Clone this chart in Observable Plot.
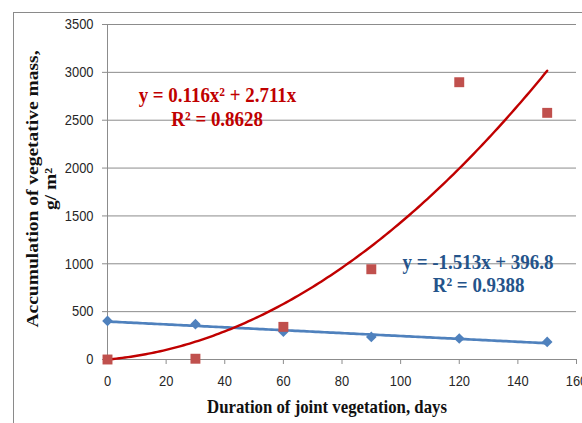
<!DOCTYPE html>
<html>
<head>
<meta charset="utf-8">
<script src="https://cdn.jsdelivr.net/npm/d3@7"></script>
<script src="https://cdn.jsdelivr.net/npm/@observablehq/plot@0.6"></script>
<style>
  html, body { margin: 0; padding: 0; background: #fff; overflow: hidden; }
  #wrap { position: relative; width: 582px; height: 423px; overflow: hidden; }
  #chart { position: absolute; left: 0; top: 0; }
  #border { position: absolute; left: 13px; top: 12px; width: 640px; height: 500px;
            border: 1px solid #8a8a8a; pointer-events: none; }
</style>
</head>
<body>
<div id="wrap"><div id="chart"></div><div id="border"></div></div>
<script>
// ---- data ----
const days = [0, 30, 60, 90, 120, 150];
const blueMass = [403, 369, 290, 236, 219, 184];     // diamonds
const redMass  = [0, 8, 341, 943, 2897, 2577];       // squares
const linearFit = { slope: -1.513, intercept: 396.8 };   // y = -1.513x + 396.8
const quadFit   = { a: 0.116, b: 2.711 };                // y = 0.116x² + 2.711x
const fitRange = [0, 150];
const xTicks = [0, 20, 40, 60, 80, 100, 120, 140, 160];
const yTicks = [0, 500, 1000, 1500, 2000, 2500, 3000, 3500];
const redLabels  = ["y = 0.116x² + 2.711x", "R² = 0.8628"];
const blueLabels = ["y = -1.513x + 396.8", "R² = 0.9388"];
const redLabelPos  = [[37.5, 2761], [37.4, 2510]];
const blueLabelPos = [[126.4, 1016], [126.6, 776]];
const xTitle = "Duration of joint vegetation, days";
const yTitle = ["Accumulation of vegetative mass,", "g/ m²"];

// ---- tables ----
const blueData = days.map((d, i) => ({ x: d, y: blueMass[i] }));
const redData = days.map((d, i) => ({ x: d, y: redMass[i] }));
const fitX = d3.range(fitRange[0], fitRange[1] + 0.001, 1);
const linLine = fitX.map(x => ({ x, y: linearFit.slope * x + linearFit.intercept }));
const quadLine = fitX.map(x => ({ x, y: quadFit.a * x * x + quadFit.b * x }));
const redText = redLabels.map((t, i) => ({ t, x: redLabelPos[i][0], y: redLabelPos[i][1] }));
const blueText = blueLabels.map((t, i) => ({ t, x: blueLabelPos[i][0], y: blueLabelPos[i][1] }));

const gray = "#8c8c8c";
const serif = "'Liberation Serif', 'Times New Roman', serif";

const chart = Plot.plot({
  width: 582,
  height: 423,
  marginLeft: 107,
  marginRight: 6,
  marginTop: 24,
  marginBottom: 64,
  style: { fontFamily: "'Liberation Sans', Arial, sans-serif", fontSize: "15px", background: "transparent", overflow: "visible" },
  x: { domain: [0, 160], label: null },
  y: { domain: [0, 3500], label: null },
  marks: [
    Plot.gridY(yTicks, { stroke: gray, strokeOpacity: 1, strokeWidth: 1 }),
    Plot.ruleX([0], { stroke: gray, strokeWidth: 1 }),
    Plot.axisY({ ticks: yTicks, tickFormat: d => String(d), tickSize: 5, tickPadding: 9, stroke: gray, fill: "#262626", fontSize: 15, label: null }),
    Plot.axisX({ ticks: xTicks, tickFormat: d => String(d), tickSize: 5, tickPadding: 11, stroke: gray, fill: "#262626", fontSize: 15, label: null }),
    Plot.line(linLine, { x: "x", y: "y", stroke: "#4F81BD", strokeWidth: 2.7 }),
    Plot.line(quadLine, { x: "x", y: "y", stroke: "#C00000", strokeWidth: 2.4 }),
    Plot.dot(blueData, { x: "x", y: "y", symbol: "diamond2", r: 4.8, fill: "#4F81BD", stroke: "none" }),
    Plot.dot(redData, { x: "x", y: "y", symbol: "square", r: 5.6, fill: "#C0504D", stroke: "none" }),
    Plot.text(redText, { x: "x", y: "y", text: "t", fill: "#C00000", fontFamily: serif, fontWeight: "bold", fontSize: 22, lineAnchor: "middle" }),
    Plot.text(blueText, { x: "x", y: "y", text: "t", fill: "#24538A", fontFamily: serif, fontWeight: "bold", fontSize: 22, lineAnchor: "middle" }),
    Plot.text([xTitle], { frameAnchor: "bottom", dx: -15, dy: 47, text: d => d, fill: "#111", fontFamily: serif, fontWeight: "bold", fontSize: 19.5, lineAnchor: "middle" }),
    Plot.text([yTitle[0]], { frameAnchor: "left", dx: -75, dy: -3, rotate: -90, textAnchor: "middle", text: d => d, fill: "#111", fontFamily: serif, fontWeight: "bold", fontSize: 19.5, lineAnchor: "middle" }),
    Plot.text([yTitle[1]], { frameAnchor: "left", dx: -57, dy: -3, rotate: -90, textAnchor: "middle", text: d => d, fill: "#111", fontFamily: serif, fontWeight: "bold", fontSize: 19.5, lineAnchor: "middle" })
  ]
});
document.getElementById("chart").appendChild(chart);

// the reference's text is horizontally condensed; mimic that
const squeeze = 0.86;
chart.querySelectorAll("text").forEach(t => {
  const tr = t.getAttribute("transform") || "";
  if (tr.includes("rotate")) {
    t.setAttribute("transform", tr + ` scale(1,${squeeze})`);
  } else {
    const L = t.getComputedTextLength();
    if (L > 0) {
      t.setAttribute("textLength", (L * squeeze).toFixed(2));
      t.setAttribute("lengthAdjust", "spacingAndGlyphs");
    }
  }
});
</script>
</body>
</html>
